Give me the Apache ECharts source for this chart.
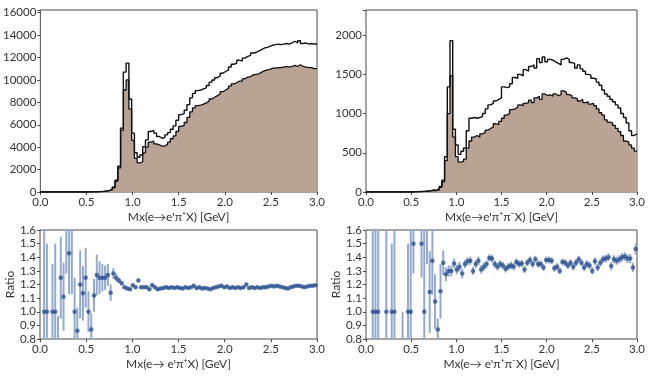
<!DOCTYPE html>
<html><head><meta charset="utf-8">
<script src="https://cdn.jsdelivr.net/npm/echarts@6/dist/echarts.min.js"></script>
<style>html,body{margin:0;padding:0;background:#fff}#c{width:648px;height:376px}</style>
</head><body><div id="c"></div>
<script>
// ---- data ----
const BIN_WIDTH = 0.03; // GeV, 100 bins over 0..3
// top-left: e -> e' pi+ X  (outer outline and filled histogram)
const outerPip = [0,0,0,0,0,0,0,0,0,0,0,0,0,0,0,0,0,
 5,10,15,25,40,60,100,150,
 250,450,1050,2300,5700,10700,11500,8300,5250,3500,3100,3300,4050,4650,5400,5500,5250,4950,4800,4850,5100,
 5300,5600,5900,6400,6900, 7000,7300,7800,8400,8800, 9050,9100,9200,9300,9500, 9800,10000,10200,10350,10600,
 10750,10900,11150,11400,11500, 11750,11700,11950,12100,12200, 12400,12450,12600,12700,12850,
 12900,13000,13100,13150,13200, 13150,13200,13250,13200,13300, 13450,13300,13500,13250,13300, 13200,13250,13200,13200];
const filledPip = [0,0,0,0,0,0,0,0,0,0,0,0,0,0,0,0,0,
 5,10,12,20,32,50,85,120,
 200,380,950,2150,5500,9100,10000,7400,4600,3000,2600,2700,3500,4000,4450,4550,4300,4200,4100,4100,4250,
 4450,4750,5000,5400,5850, 5950,6200,6650,7150,7500, 7700,7750,7850,7950,8100, 8300,8450,8600,8750,8950,
 9100,9250,9450,9650,9750, 9900,9900,10100,10250,10300, 10450,10500,10550,10700,10800,
 10900,10950,11050,11050,11100, 11100,11150,11200,11150,11200, 11300,11200,11350,11200,11150, 11100,11100,11000,11000];
// top-right: e -> e' pi+ pi- X
const outerPipPim = [0,0,0,0,0,0,0,0,0,0,0,0,0,0,0,0,0,
 3,5,6,8,10,14,18,25,
 22,35,70,150,450,1340,1930,800,600,480,520,560,780,940,950,940,950,960,1000,1060,1110,
 1130,1160,1180,1200,1340, 1330,1340,1380,1460,1450, 1500,1480,1560,1540,1600, 1620,1580,1700,1650,1720,
 1660,1690,1680,1660,1640, 1620,1690,1710,1690,1650, 1640,1580,1620,1570,1540,
 1500,1490,1450,1440,1400, 1360,1300,1250,1220,1180, 1150,1110,1070,1000,950, 880,780,720,740];
const filledPipPim = [0,0,0,0,0,0,0,0,0,0,0,0,0,0,0,0,0,
 2,3,4,6,8,10,14,20,
 18,28,60,130,400,1000,1480,700,450,380,390,420,560,650,700,720,700,740,760,790,810,
 830,870,860,900,940, 980,1000,1050,1060,1080, 1110,1100,1130,1140,1170, 1140,1200,1220,1180,1250,
 1230,1240,1220,1250,1230, 1240,1290,1270,1240,1230, 1200,1190,1160,1180,1140,
 1150,1120,1130,1100,1060, 1010,980,920,890,880, 850,810,770,720,650, 640,600,560,520];
// bottom-left ratio (per bin, null = no point)
const ratioPip = [null,1.0,1.0,null,1.0,1.0,0.6,1.25,1.11,1.8,1.43,1.9,1.0,0.86,1.2,1.135,1.25,1.0,0.87,1.12,
 1.27,1.25,1.25,1.25,1.27,1.14,1.28,1.25,1.23,1.21,
 1.18,1.17,1.165,1.195,1.18,1.23,1.18,1.18,1.18,1.165,
 1.195,1.18,1.165,1.17,1.175,1.18,1.175,1.18,1.175,1.18,
 1.175,1.17,1.18,1.175,1.18,1.19,1.175,1.18,1.17,1.175,
 1.17,1.165,1.175,1.18,1.185,1.19,1.18,1.185,1.175,1.18,
 1.175,1.18,1.175,1.18,1.2,1.175,1.18,1.175,1.18,1.175,
 1.18,1.18,1.185,1.19,1.185,1.19,1.185,1.18,1.175,1.17,
 1.18,1.185,1.19,1.19,1.185,1.18,1.185,1.19,1.19,1.195];
const ratioPipErr = [0,0.6,0.5,0,0.35,0.5,0.37,0.3,0.25,0.52,0.3,0.77,0.25,0.17,0.25,0.2,0.22,0.15,0.12,0.12,
 0.15,0.12,0.1,0.09,0.08,0.06,0.04,0.03,0.02,0.015,
 0.012,0.012,0.012,0.012,0.01,0.01,0.01,0.01,0.01,0.01,
 0.01,0.009,0.009,0.009,0.009,0.008,0.008,0.008,0.008,0.008,
 0.008,0.008,0.008,0.007,0.007,0.007,0.007,0.007,0.007,0.007,
 0.007,0.007,0.007,0.007,0.007,0.007,0.007,0.007,0.007,0.007,
 0.007,0.007,0.007,0.007,0.007,0.007,0.007,0.007,0.007,0.007,
 0.007,0.007,0.007,0.007,0.007,0.007,0.007,0.007,0.007,0.007,
 0.007,0.007,0.007,0.007,0.007,0.007,0.007,0.007,0.007,0.007];
// bottom-right ratio
const ratioPipPim = [null,null,1.0,1.0,1.0,null,null,1.0,null,1.0,1.0,null,null,0.6,null,1.0,1.0,1.5,null,null,
 1.5,1.0,1.9,1.145,1.375,1.075,0.87,1.15,1.36,1.275,
 1.3,1.3,1.355,1.31,1.33,1.28,1.35,1.37,1.375,1.3,
 1.35,1.375,1.31,1.33,1.35,1.395,1.39,1.35,1.33,1.35,
 1.34,1.315,1.33,1.34,1.33,1.365,1.35,1.355,1.31,1.36,
 1.38,1.35,1.385,1.35,1.35,1.325,1.38,1.38,1.375,1.32,
 1.33,1.3,1.365,1.36,1.34,1.36,1.33,1.36,1.385,1.36,
 1.325,1.35,1.34,1.3,1.37,1.325,1.36,1.385,1.39,1.4,
 1.335,1.385,1.375,1.385,1.4,1.405,1.39,1.39,1.325,1.46];
const ratioPipPimErr = [0,0,0.7,0.7,0.7,0,0,0.6,0,0.5,0.6,0,0,0.4,0,0.5,0.6,0.22,0,0,
 0.25,0.6,0.55,0.3,0.25,0.2,0.08,0.2,0.09,0.05,
 0.04,0.04,0.035,0.035,0.035,0.035,0.03,0.03,0.03,0.03,
 0.03,0.03,0.03,0.03,0.028,0.028,0.028,0.028,0.028,0.028,
 0.027,0.027,0.027,0.027,0.027,0.026,0.026,0.026,0.026,0.026,
 0.026,0.026,0.026,0.026,0.026,0.026,0.026,0.026,0.026,0.026,
 0.026,0.026,0.026,0.026,0.026,0.026,0.026,0.026,0.026,0.026,
 0.027,0.027,0.027,0.027,0.028,0.028,0.028,0.028,0.029,0.029,
 0.03,0.03,0.03,0.031,0.031,0.032,0.033,0.034,0.035,0.04];
const TITLE_TL = "Mx(e\u2192e'\u03c0\u207aX) [GeV]";
const TITLE_TR = "Mx(e\u2192e'\u03c0\u207a\u03c0\u207bX) [GeV]";
const TITLE_BL = "Mx(e\u2192 e'\u03c0\u207aX) [GeV]";
const TITLE_BR = "Mx(e\u2192 e'\u03c0\u207a\u03c0\u207bX) [GeV]";

// ---- build ----
function stepData(vals){
  const d = vals.map((v,i)=>[i*BIN_WIDTH, v]);
  d.push([vals.length*BIN_WIDTH, vals[vals.length-1]]);
  return d;
}
function pts(vals, errs){
  const out=[];
  vals.forEach((v,i)=>{ if(v!==null) out.push([(i+0.5)*BIN_WIDTH, v, errs[i]]); });
  return out;
}
const FONT = 'Lato';
const TXT = '#333';
const FRAME = '#4a4a4a';
const BROWN = '#b8a394';
const DARKBLUE = '#2d5292';
const LIGHTBLUE = '#93aace';

function xAxis(gi, name, gap){
  return {type:'value', gridIndex:gi, min:0, max:3, interval:0.5,
    name:name, nameLocation:'middle', nameGap:gap,
    nameTextStyle:{fontFamily:FONT, fontSize:12, color:TXT},
    axisLine:{show:false}, axisTick:{show:true, length:3, lineStyle:{color:FRAME}},
    axisLabel:{fontFamily:FONT, fontSize:11.5, color:TXT, margin:4, formatter:v=>v.toFixed(1)},
    splitLine:{show:false}};
}
function yAxis(gi, min, max, interval, fmt, name){
  const a = {type:'value', gridIndex:gi, min:min, max:max, interval:interval,
    axisLine:{show:false}, axisTick:{show:true, length:3, lineStyle:{color:FRAME}},
    axisLabel:{fontFamily:FONT, fontSize:11.5, color:TXT, margin:4, formatter:fmt},
    splitLine:{show:false}};
  if(name){ a.name=name; a.nameLocation='middle'; a.nameGap=23;
    a.nameTextStyle={fontFamily:FONT, fontSize:12, color:TXT}; }
  return a;
}
function errSeries(xi, yi, data){
  return {type:'custom', xAxisIndex:xi, yAxisIndex:yi, clip:true, data:data, z:2,
    renderItem:(params, api)=>{
      const x=api.value(0), y=api.value(1), e=api.value(2);
      const p1=api.coord([x,y-e]), p2=api.coord([x,y+e]);
      return {type:'line', shape:{x1:p1[0],y1:p1[1],x2:p2[0],y2:p2[1]},
        style:{stroke:LIGHTBLUE, lineWidth:2}};
    }};
}
const gridBase = {show:true, borderColor:FRAME, borderWidth:1, backgroundColor:'transparent', containLabel:false};
const option = {
  animation:false,
  grid:[
    Object.assign({left:40, top:10, width:277, height:182}, gridBase),
    Object.assign({left:366, top:10, width:277, height:182}, gridBase),
    Object.assign({left:40, top:230, width:277, height:109}, gridBase),
    Object.assign({left:366, top:230, width:277, height:109}, gridBase)
  ],
  xAxis:[ xAxis(0, TITLE_TL, 19), xAxis(1, TITLE_TR, 19), xAxis(2, TITLE_BL, 19), xAxis(3, TITLE_BR, 19) ],
  yAxis:[
    yAxis(0, 0, 16240, 2000, v=> (v%2000===0 ? String(v) : '')),
    yAxis(1, 0, 2320, 500, v=> (v%500===0 ? String(v) : '')),
    yAxis(2, 0.8, 1.6, 0.1, v=>v.toFixed(1), 'Ratio'),
    yAxis(3, 0.8, 1.6, 0.1, v=>v.toFixed(1), 'Ratio')
  ],
  series:[
    {type:'line', xAxisIndex:0, yAxisIndex:0, step:'end', data:stepData(filledPip), showSymbol:false,
      lineStyle:{color:'#111', width:1.3}, areaStyle:{color:BROWN, opacity:1}, z:2},
    {type:'line', xAxisIndex:0, yAxisIndex:0, step:'end', data:stepData(outerPip), showSymbol:false,
      lineStyle:{color:'#111', width:1.4}, z:3},
    {type:'line', xAxisIndex:1, yAxisIndex:1, step:'end', data:stepData(filledPipPim), showSymbol:false,
      lineStyle:{color:'#111', width:1.3}, areaStyle:{color:BROWN, opacity:1}, z:2},
    {type:'line', xAxisIndex:1, yAxisIndex:1, step:'end', data:stepData(outerPipPim), showSymbol:false,
      lineStyle:{color:'#111', width:1.4}, z:3},
    errSeries(2, 2, pts(ratioPip, ratioPipErr)),
    {type:'scatter', xAxisIndex:2, yAxisIndex:2, clip:true, symbolSize:4.5, itemStyle:{color:DARKBLUE},
      data:pts(ratioPip, ratioPipErr).map(p=>[p[0],p[1]]), z:3},
    errSeries(3, 3, pts(ratioPipPim, ratioPipPimErr)),
    {type:'scatter', xAxisIndex:3, yAxisIndex:3, clip:true, symbolSize:4.5, itemStyle:{color:DARKBLUE},
      data:pts(ratioPipPim, ratioPipPimErr).map(p=>[p[0],p[1]]), z:3}
  ]
};
const chart = echarts.init(document.getElementById('c'), null, {renderer:'canvas'});
chart.setOption(option);
</script>
</body></html>
